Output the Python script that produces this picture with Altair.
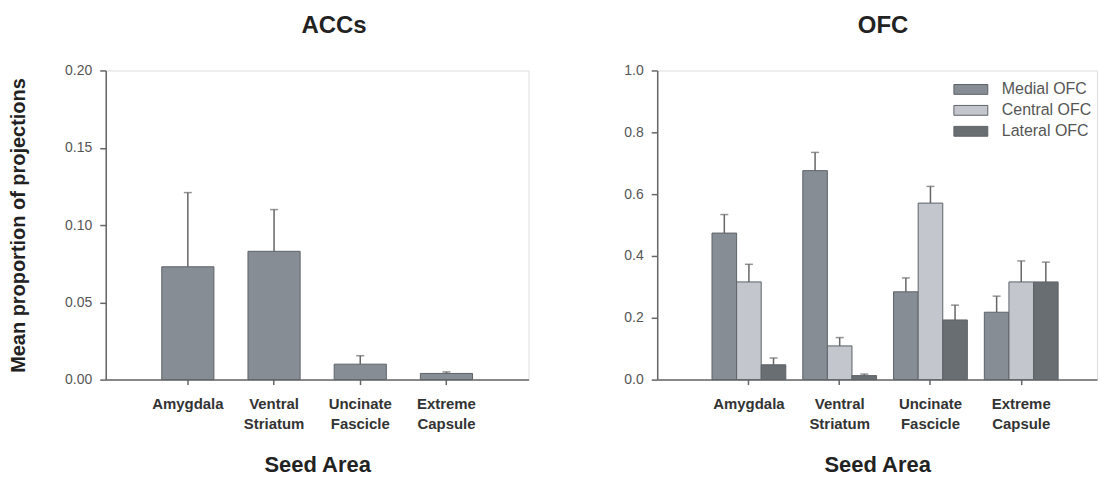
import altair as alt
import pandas as pd

areas = ["Amygdala", "Ventral Striatum", "Uncinate Fascicle", "Extreme Capsule"]

acc_mean = [0.073, 0.083, 0.010, 0.004]
acc_sem = [0.048, 0.027, 0.0055, 0.001]

ofc_groups = ["Medial OFC", "Central OFC", "Lateral OFC"]
medial_mean = [0.474, 0.676, 0.284, 0.218]
medial_sem = [0.060, 0.059, 0.045, 0.052]
central_mean = [0.316, 0.109, 0.571, 0.316]
central_sem = [0.057, 0.027, 0.054, 0.068]
lateral_mean = [0.048, 0.013, 0.193, 0.316]
lateral_sem = [0.022, 0.005, 0.048, 0.064]

colors = ["#878d94", "#c3c7cd", "#686e72"]

FONT = "Liberation Sans"
AXC = "#666666"

acc_df = pd.DataFrame({
    "area": areas,
    "mean": acc_mean,
    "upper": [m + s for m, s in zip(acc_mean, acc_sem)],
})

rows = []
for g, means, sems in zip(ofc_groups, [medial_mean, central_mean, lateral_mean],
                          [medial_sem, central_sem, lateral_sem]):
    for a, m, s in zip(areas, means, sems):
        rows.append({"area": a, "group": g, "mean": m, "upper": m + s})
ofc_df = pd.DataFrame(rows)

x_axis = alt.Axis(
    title="Seed Area", labelAngle=0, labelExpr="split(datum.label, ' ')",
    labelFont=FONT, labelFontSize=15, labelFontWeight="bold", labelColor="#333333",
    labelLineHeight=20, labelPadding=12, tickSize=5, tickColor=AXC, tickWidth=1.5,
    domainColor=AXC, domainWidth=1.5, titleFont=FONT, titleFontSize=22,
    titleFontWeight="bold", titleColor="#222222", titlePadding=23, grid=False,
)

# ---------- ACCs ----------
xs_acc = alt.X("area:N", sort=areas, axis=x_axis,
               scale=alt.Scale(paddingInner=0.395, paddingOuter=0.65))
ys_acc = alt.Y("mean:Q", scale=alt.Scale(domain=[0, 0.2]),
               axis=alt.Axis(title="Mean proportion of projections",
                             values=[0, 0.05, 0.10, 0.15, 0.20], format=".2f",
                             labelFont=FONT, labelFontSize=14, labelColor="#555555",
                             labelPadding=8, tickSize=6, tickColor=AXC, tickWidth=1.5,
                             domainColor=AXC, domainWidth=1.5, grid=False,
                             titleFont=FONT, titleFontSize=20, titleFontWeight="bold",
                             titleColor="#222222", titlePadding=36))

acc_base = alt.Chart(acc_df)
acc_rule = acc_base.mark_rule(color=AXC, strokeWidth=1.5).encode(
    x=xs_acc, y=ys_acc, y2="upper:Q")
acc_cap = acc_base.mark_tick(color=AXC, thickness=1.5, size=8, orient="horizontal").encode(
    x=xs_acc, y="upper:Q")
acc_bar = acc_base.mark_bar(color=colors[0], stroke="#5d6267", strokeWidth=1).encode(
    x=xs_acc, y=ys_acc)

acc_chart = alt.layer(acc_rule, acc_cap, acc_bar).properties(
    width=424, height=310,
    title=alt.TitleParams("ACCs", font=FONT, fontSize=24, fontWeight="bold",
                          color="#222222", offset=26, dx=17),
)

# ---------- OFC ----------
xs_ofc = alt.X("area:N", sort=areas, axis=x_axis,
               scale=alt.Scale(paddingInner=0.187, paddingOuter=0.516, align=0.585))
xo = alt.XOffset("group:N", sort=ofc_groups,
                 scale=alt.Scale(paddingInner=0, paddingOuter=0))
ys_ofc = alt.Y("mean:Q", scale=alt.Scale(domain=[0, 1]),
               axis=alt.Axis(title=None, values=[0, 0.2, 0.4, 0.6, 0.8, 1.0], format=".1f",
                             labelFont=FONT, labelFontSize=14, labelColor="#555555",
                             labelPadding=8, tickSize=6, tickColor=AXC, tickWidth=1.5,
                             domainColor=AXC, domainWidth=1.5, grid=False))
col = alt.Color("group:N", sort=ofc_groups,
                scale=alt.Scale(domain=ofc_groups, range=colors),
                legend=alt.Legend(title=None, orient="none", legendX=850, legendY=10,
                                  symbolType="M-2,-0.58L2,-0.58L2,0.58L-2,0.58Z",
                                  symbolSize=289, symbolStrokeColor="#5d6267",
                                  symbolStrokeWidth=1, symbolOpacity=1, symbolOffset=8.5,
                                  labelFont=FONT, labelFontSize=16, labelColor="#555555",
                                  labelOffset=22, rowPadding=4))

ofc_base = alt.Chart(ofc_df)
ofc_rule = ofc_base.mark_rule(color=AXC, strokeWidth=1.5).encode(
    x=xs_ofc, xOffset=xo, y=ys_ofc, y2="upper:Q")
ofc_cap = ofc_base.mark_tick(color=AXC, thickness=1.5, size=8, orient="horizontal").encode(
    x=xs_ofc, xOffset=xo, y="upper:Q")
ofc_bar = ofc_base.mark_bar(stroke="#5d6267", strokeWidth=1, opacity=1).encode(
    x=xs_ofc, xOffset=xo, y=ys_ofc, color=col)

ofc_chart = alt.layer(ofc_rule, ofc_cap, ofc_bar).properties(
    width=441, height=310,
    title=alt.TitleParams("OFC", font=FONT, fontSize=24, fontWeight="bold",
                          color="#222222", offset=26, dx=6),
)

chart = alt.hconcat(acc_chart, ofc_chart, spacing=94).properties(
    padding={"top": 4, "left": 0, "right": 0, "bottom": 0}
).configure_view(stroke=None).configure(background="white")

chart.save("out.html", embed_options={"renderer": "svg", "actions": False})
